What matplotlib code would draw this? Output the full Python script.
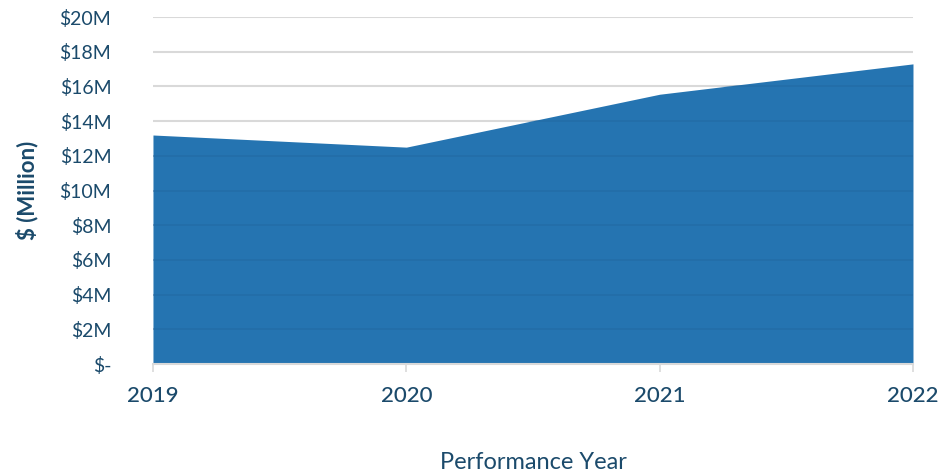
import matplotlib.pyplot as plt
from matplotlib.ticker import FuncFormatter

plt.rcParams['font.family'] = ['Lato', 'DejaVu Sans']

# data
years = ['2019', '2020', '2021', '2022']
spend = [13.2, 12.5, 15.55, 17.3]  # $ million
y_ticks = list(range(0, 21, 2))

text_color = '#1b4a6b'
fill_color = '#2574b1'

fig = plt.figure(figsize=(9.46, 4.73), dpi=100)
ax = fig.add_axes([0.1617, 0.2304, 0.8034, 0.7336])

x = list(range(len(years)))
area = ax.fill_between(x, 0, spend, color=fill_color, linewidth=0, zorder=1)
clip = area.get_paths()[0]

# gridlines, faintly visible through the fill
for v in y_ticks[1:]:
    ax.axhline(v, color='#d9d9d9', linewidth=1.5, zorder=0)
    ln = ax.axhline(v, color='#1f5f95', linewidth=1.2, alpha=0.3, zorder=2)
    ln.set_clip_path(clip, ax.transData)

ax.set_xlim(0, len(years) - 1)
ax.set_ylim(0, 20)
ax.set_xticks(x)
ax.set_xticklabels(years)
ax.set_yticks(y_ticks)
ax.yaxis.set_major_formatter(FuncFormatter(lambda v, p: '$-' if v == 0 else f'${int(v)}M'))

for s in ['top', 'right', 'left']:
    ax.spines[s].set_visible(False)
ax.spines['bottom'].set_color('#d9d9d9')
ax.spines['bottom'].set_linewidth(1.5)
ax.spines['bottom'].set_zorder(3)

ax.tick_params(axis='y', length=0, pad=30, labelsize=14, labelcolor=text_color)
ax.tick_params(axis='x', length=6, width=1.2, color='#d9d9d9', pad=10,
               labelsize=16, labelcolor=text_color)
for lbl in ax.get_xticklabels():
    lbl.set_fontweight('medium')

ax.set_xlabel('Performance Year', fontsize=17, color=text_color, labelpad=33)
ax.set_ylabel('$ (Million)', fontsize=16, color=text_color, fontweight='bold', labelpad=15)

fig.savefig('out.png', dpi=100)
